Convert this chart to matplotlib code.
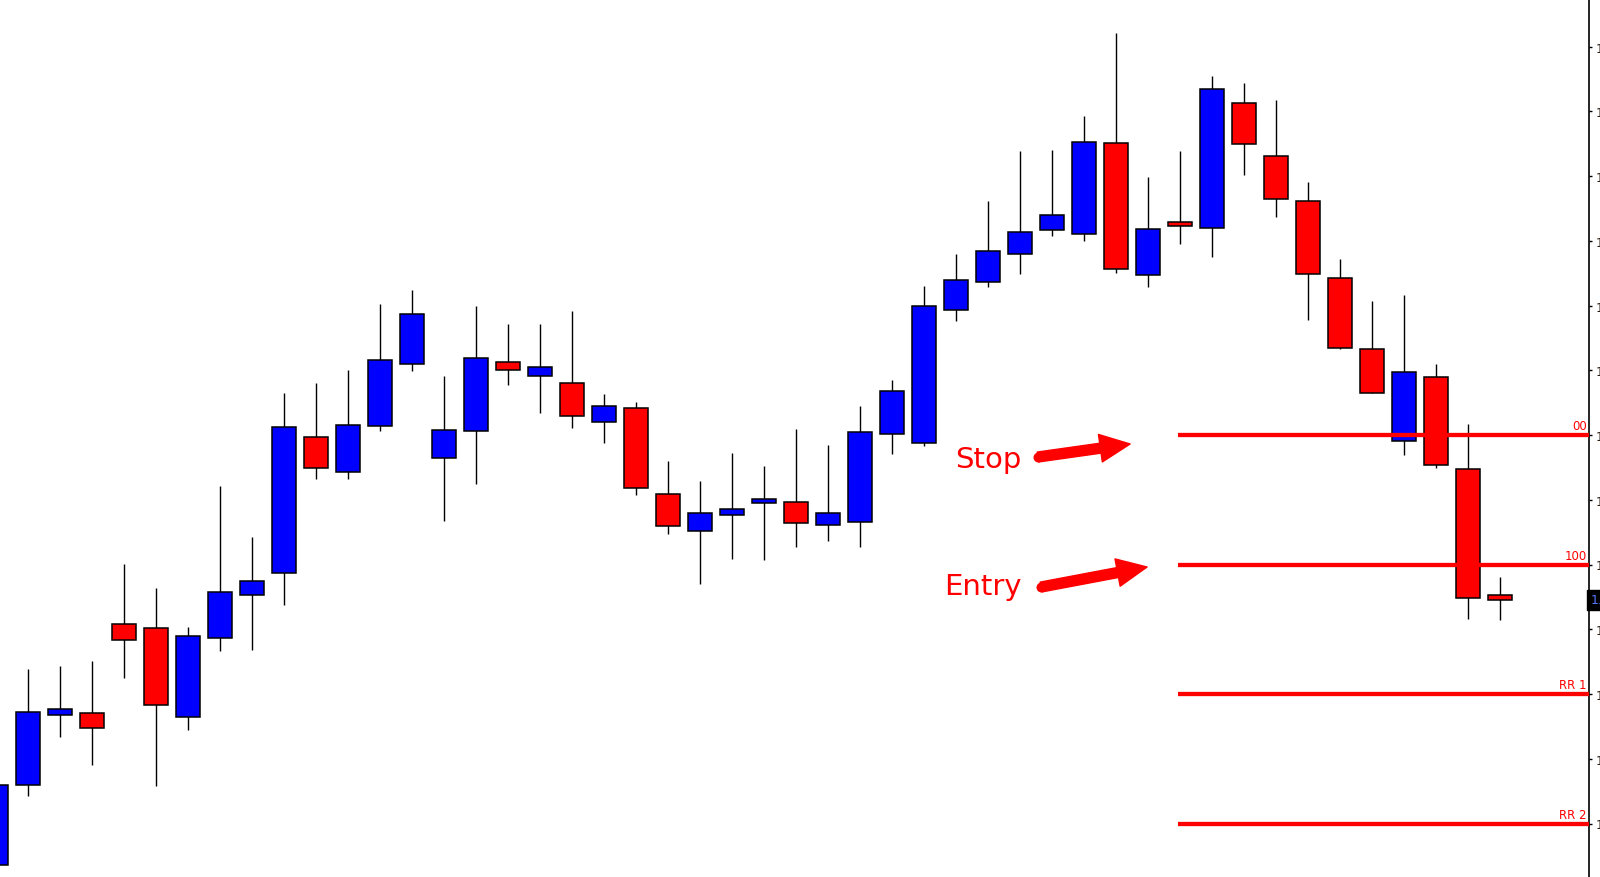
import numpy as np
import matplotlib
matplotlib.use("Agg")
from matplotlib import pyplot as plt

# OHLC (price units = pixel height above the bottom edge)
opens  = [12, 92, 162, 164, 253, 249, 160, 239, 282, 304, 440, 405, 451, 513, 419, 446,
          515, 501, 494, 455, 469, 383, 346, 362, 374, 375, 352, 355, 443, 434, 567, 595,
          623, 647, 643, 734, 602, 655, 649, 774, 721, 676, 599, 528, 436, 500, 408, 282]
highs  = [92, 208, 211, 216, 313, 289, 250, 391, 340, 484, 494, 507, 573, 587, 501, 571,
          553, 553, 566, 483, 475, 416, 396, 424, 411, 448, 432, 471, 497, 591, 623, 676,
          726, 727, 761, 844, 700, 726, 801, 794, 777, 695, 618, 576, 582, 513, 453, 300]
lows   = [12, 81, 140, 112, 199, 91, 147, 226, 227, 272, 398, 398, 446, 506, 356, 393,
          492, 464, 449, 434, 382, 343, 293, 318, 317, 330, 336, 330, 423, 431, 556, 590,
          603, 641, 636, 604, 590, 633, 620, 702, 660, 557, 528, 484, 422, 409, 258, 257]
closes = [92, 165, 168, 149, 237, 172, 241, 285, 296, 450, 409, 452, 517, 563, 447, 519,
          507, 510, 461, 471, 389, 351, 364, 368, 378, 354, 364, 445, 486, 571, 597, 626,
          645, 662, 735, 608, 648, 651, 788, 733, 678, 603, 529, 484, 505, 412, 279, 277]

# trade levels drawn on the right
level_names = ["00", "100", "RR 1", "RR 2"]
level_values = [442, 312.5, 183, 53.5]
level_start = 36.93

# right price scale (labels are cut off at the image edge)
tick_step = 64.75
tick_values = [level_values[0] + tick_step * k for k in range(6, -7, -1)]
tick_labels = ["1.%04d" % (3560 - 10 * k) for k in range(len(tick_values))]

opens, highs, lows, closes = map(np.array, (opens, highs, lows, closes))
idx = np.arange(len(opens))
up = closes >= opens

fig = plt.figure(figsize=(16, 8.78), dpi=100)
ax = fig.add_axes([0, 0, 1589 / 1600, 1])
ax.set_xlim(0.1156, 49.77)
ax.set_ylim(0, 878)

# wicks then bodies
ax.vlines(idx, lows, highs, color="black", lw=1.0, zorder=1)
colors = np.where(up, "#0000ff", "#ff0000")
ax.bar(idx, closes - opens, bottom=opens, width=0.75, color=colors,
       edgecolor="black", linewidth=1.1, zorder=2)

# levels
for name, val in zip(level_names, level_values):
    ax.hlines(val, level_start, 49.77, color="#ff0000", lw=3.1, zorder=3)
    ax.text(49.70, val + 2.5, name, color="#ff0000", fontsize=8.5,
            ha="right", va="bottom", zorder=4)

# Stop / Entry annotations
arrow = dict(arrowstyle="simple,head_length=1.08,head_width=1.0,tail_width=0.36",
             color="#ff0000", shrinkA=0, shrinkB=0, mutation_scale=20)
notes = [("Stop", 32.05, 410, (32.55, 420), (35.43, 433)),
         ("Entry", 32.05, 283, (32.65, 290), (35.96, 310))]
for label, tx, ty, tail, tip in notes:
    ax.text(tx, ty, label, color="#ff0000", fontsize=21, ha="right", va="baseline")
    ax.annotate("", xy=tip, xytext=tail, arrowprops=arrow, zorder=5)
    ax.plot(*tail, marker="o", ms=7.2, color="#ff0000", mec="none", zorder=5)

# axis styling: only the right price scale
for side in ["top", "left", "bottom"]:
    ax.spines[side].set_visible(False)
ax.spines["right"].set_linewidth(1.2)
ax.set_xticks([])
ax.yaxis.tick_right()
ax.set_yticks(tick_values)
ax.set_yticklabels(tick_labels, fontsize=9, color="#2a1c10")
ax.tick_params(axis="y", direction="out", length=2.5, width=1, pad=2)

# current price marker
ax.text(1.001, closes[-1], "1.3515", transform=ax.get_yaxis_transform(),
        fontsize=9, color="#5577ff", ha="left", va="center",
        bbox=dict(boxstyle="square,pad=0.25", fc="black", ec="black"), zorder=6,
        clip_on=False)

fig.savefig("out.png", dpi=100)
